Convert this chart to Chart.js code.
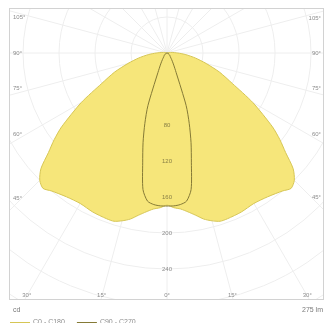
<!DOCTYPE html>
<html>
<head>
<meta charset="utf-8">
<script src="https://cdn.jsdelivr.net/npm/chart.js@4.4.1/dist/chart.umd.min.js"></script>
<style>
  html, body { margin: 0; padding: 0; background: #fff; overflow: hidden; }
  #wrap { position: relative; width: 326px; height: 323px; }
</style>
</head>
<body>
<div id="wrap"><canvas id="polarChart" width="326" height="323"></canvas></div>
<script>
// Gamma angles (deg from nadir) and luminous intensity for each C-plane pair (cd)
const gammaAngles = [0, 2.5, 5, 7.5, 10, 12.5, 15, 17.5, 20, 25, 30, 35, 40, 42.5, 45, 47.5, 50, 52.5, 55, 60, 65, 70, 75, 80, 85, 90, 100, 110, 120, 150, 180];
const c0c180 = [169, 172, 174, 178, 183, 189, 193, 196, 196, 195, 193, 195, 200, 204, 200, 190, 172, 158, 143, 110, 80, 62, 45, 32, 21, 12, 4, 1, 0, 0, 0];
const c90c270 = [170, 170, 169, 166, 154, 125, 103, 82, 62, 24, 14, 9, 6, 5, 5, 4, 4, 3, 3, 2, 2, 1, 1, 0, 0, 0, 0, 0, 0, 0, 0];

const ringValues = [40, 80, 120, 160, 200, 240, 280, 320, 360];
const ringLabels = [80, 120, 160, 200, 240];
const angleTicks = [0, 15, 30, 45, 60, 75, 90, 105];
const legendLabels = ['C0 - C180', 'C90 - C270'];
const unitLabel = 'cd';
const fluxLabel = '275 lm';

const FILL_YELLOW = '#f6e67a';
const EDGE_YELLOW = '#d6c655';
const LINE_OLIVE = '#857a36';

// mirror a half profile into a closed curve: left side is C180/C270, right side C0/C90
function toPoints(values) {
    const pts = [];
    for (let i = gammaAngles.length - 1; i >= 0; i--) {
        const g = gammaAngles[i] * Math.PI / 180;
        pts.push({ x: -values[i] * Math.sin(g), y: -values[i] * Math.cos(g) });
    }
    for (let i = 1; i < gammaAngles.length; i++) {
        const g = gammaAngles[i] * Math.PI / 180;
        pts.push({ x: values[i] * Math.sin(g), y: -values[i] * Math.cos(g) });
    }
    return pts;
}

const polarGrid = {
    id: 'polarGrid',
    beforeDatasetsDraw(chart) {
        const { ctx, chartArea: a, scales: { x, y } } = chart;
        const cx = x.getPixelForValue(0);
        const cy = y.getPixelForValue(0);
        const k = x.getPixelForValue(100) - cx;

        ctx.save();
        ctx.beginPath();
        ctx.rect(a.left, a.top, a.right - a.left, a.bottom - a.top);
        ctx.clip();
        ctx.strokeStyle = '#eeeeee';
        ctx.lineWidth = 1;

        ringValues.forEach(v => {
            ctx.beginPath();
            ctx.arc(cx, cy, v * k / 100, 0, Math.PI * 2);
            ctx.stroke();
        });

        for (let deg = 0; deg < 360; deg += 15) {
            const r = deg * Math.PI / 180;
            ctx.beginPath();
            ctx.moveTo(cx, cy);
            ctx.lineTo(cx + Math.sin(r) * 600, cy + Math.cos(r) * 600);
            ctx.stroke();
        }
        ctx.restore();
    },
    afterDatasetsDraw(chart) {
        const { ctx, chartArea: a, scales: { x, y } } = chart;
        const cx = x.getPixelForValue(0);
        const cy = y.getPixelForValue(0);
        const k = x.getPixelForValue(100) - cx;

        // intensity labels down the nadir line
        ctx.save();
        ctx.globalCompositeOperation = 'multiply';
        ctx.fillStyle = '#8e8e8e';
        ctx.font = '6px "Liberation Sans", Arial, sans-serif';
        ctx.textAlign = 'center';
        ctx.textBaseline = 'middle';
        ringLabels.forEach(v => ctx.fillText(String(v), cx, cy + v * k / 100));
        ctx.restore();

        // frame
        ctx.save();
        ctx.strokeStyle = '#d2d2d2';
        ctx.lineWidth = 1;
        ctx.strokeRect(a.left + 0.5, a.top + 0.5, a.right - a.left - 1, a.bottom - a.top - 1);

        // angle labels where the spokes leave the frame
        ctx.fillStyle = '#8c8c8c';
        ctx.font = '6px "Liberation Sans", Arial, sans-serif';
        ctx.textBaseline = 'middle';
        const sideX = 8;
        const bottomY = a.bottom - 5;
        angleTicks.forEach(deg => {
            const r = deg * Math.PI / 180;
            [-1, 1].forEach(side => {
                if (deg === 0 && side === 1) return;
                const dx = Math.sin(r) * side;
                const dy = Math.cos(r);
                const txt = deg + '°';
                const tSide = dx !== 0 ? (side < 0 ? (cx - a.left - sideX) : (a.right - sideX - cx)) / Math.abs(dx) : Infinity;
                const tBottom = dy > 0 ? (bottomY - cy) / dy : Infinity;
                if (tBottom < tSide) {
                    const px = cx + dx * tBottom;
                    if (deg === 0) {
                        ctx.textAlign = 'center';
                        ctx.fillText(txt, px, bottomY);
                    } else {
                        ctx.textAlign = side < 0 ? 'right' : 'left';
                        ctx.fillText(txt, px - side * 4, bottomY);
                    }
                } else {
                    const py = cy + dy * tSide;
                    const nudge = Math.abs(dy) < 1e-6 ? 0 : -5 * Math.sign(dy);
                    if (side < 0) {
                        ctx.textAlign = 'left';
                        ctx.fillText(txt, a.left + 4, py + nudge);
                    } else {
                        ctx.textAlign = 'right';
                        ctx.fillText(txt, a.right - 3, py + nudge);
                    }
                }
            });
        });

        // unit, flux and legend under the frame
        ctx.fillStyle = '#7a7a7a';
        ctx.font = '7px "Liberation Sans", Arial, sans-serif';
        ctx.textAlign = 'left';
        ctx.fillText(unitLabel, a.left + 4, a.bottom + 10);
        ctx.textAlign = 'right';
        ctx.fillText(fluxLabel, a.right - 1, a.bottom + 10);

        const legendY = a.bottom + 22;
        const colors = [EDGE_YELLOW, LINE_OLIVE];
        let lx = a.left + 1;
        legendLabels.forEach((label, i) => {
            ctx.strokeStyle = colors[i];
            ctx.beginPath();
            ctx.moveTo(lx, legendY + 0.5);
            ctx.lineTo(lx + 20, legendY + 0.5);
            ctx.stroke();
            ctx.textAlign = 'left';
            ctx.fillStyle = '#8c8c8c';
            ctx.fillText(label, lx + 23, legendY);
            lx += 23 + ctx.measureText(label).width + 12;
        });
        ctx.restore();
    }
};

new Chart(document.getElementById('polarChart'), {
    type: 'scatter',
    data: {
        datasets: [
            {
                label: legendLabels[0],
                data: toPoints(c0c180),
                showLine: true,
                fill: 'shape',
                backgroundColor: FILL_YELLOW,
                borderColor: EDGE_YELLOW,
                borderWidth: 1,
                tension: 0.25,
                pointRadius: 0,
                order: 2
            },
            {
                label: legendLabels[1],
                data: toPoints(c90c270),
                showLine: true,
                fill: false,
                borderColor: LINE_OLIVE,
                borderWidth: 1,
                tension: 0.25,
                pointRadius: 0,
                order: 1
            }
        ]
    },
    options: {
        responsive: false,
        animation: false,
        devicePixelRatio: 1,
        layout: { padding: { left: 9, top: 8, right: 2, bottom: 23 } },
        plugins: { legend: { display: false }, tooltip: { enabled: false } },
        scales: {
            x: { type: 'linear', min: -175.6, max: 174.4, display: false },
            y: { type: 'linear', min: -274.4, max: 50, display: false }
        }
    },
    plugins: [polarGrid]
});
</script>
</body>
</html>
